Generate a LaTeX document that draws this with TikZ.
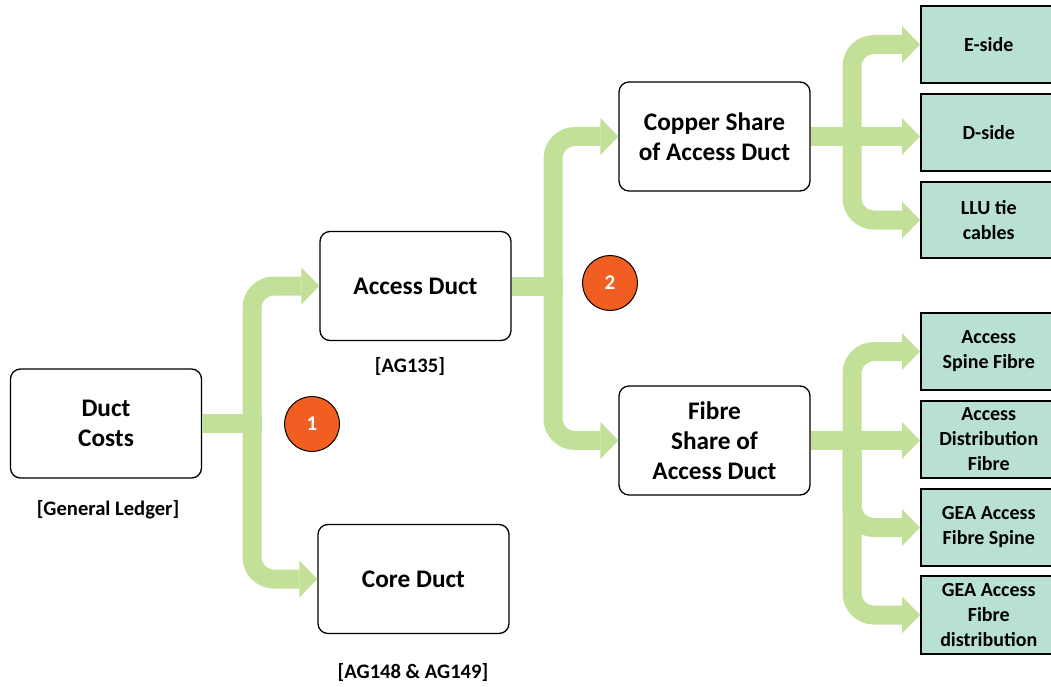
\documentclass[tikz,border=0pt]{standalone}
\usepackage{fontspec}
\setmainfont{Carlito}
\usetikzlibrary{arrows.meta}
\definecolor{arrowgreen}{RGB}{194,224,152}
\definecolor{leafteal}{RGB}{185,225,210}
\definecolor{badgeorange}{RGB}{241,94,34}
\begin{document}
\begin{tikzpicture}[x=1pt,y=-1pt,
 mainbox/.style={draw=black, line width=1.3pt, rounded corners=10pt, fill=white, minimum width=191pt, minimum height=109pt, align=center, font=\fontsize{25.3}{30}\selectfont\bfseries},
 leafbox/.style={draw=black, line width=1.5pt, fill=leafteal, minimum width=136pt, anchor=west, align=center, font=\fontsize{20}{25}\selectfont\bfseries, inner sep=0pt},
 flow/.style={draw=arrowgreen, line width=19pt, rounded corners=22pt},
 flowtip/.style={flow, -{Triangle[width=37pt,length=18pt,line width=0pt]}},
 badge/.style={circle, draw=black, line width=1pt, fill=badgeorange, minimum size=55pt, inner sep=0pt, text=white, font=\fontsize{21}{24}\selectfont\bfseries},
 tag/.style={font=\fontsize{20.6}{24}\selectfont\bfseries}]
\useasboundingbox (0,0) rectangle (1051,687);
% main boxes
\node[mainbox] (duct) at (106,423.5) {Duct\\Costs};
\node[mainbox] (acc) at (415.5,286) {Access Duct};
\node[mainbox] (core) at (413.5,579) {Core Duct};
\node[mainbox] (cop) at (714.5,136.5) {Copper Share\\of Access Duct};
\node[mainbox] (fib) at (714.5,440.5) {Fibre\\Share of\\Access Duct};
% leaf boxes
\node[leafbox, minimum height=77pt] (eside) at (920,44.5) {E-side};
\node[leafbox, minimum height=77pt] (dside) at (920,132.5) {D-side};
\node[leafbox, minimum height=76pt] (llu) at (920,220) {LLU tie\\cables};
\node[leafbox, minimum height=77pt] (asf) at (920,351.5) {Access\\Spine Fibre};
\node[leafbox, minimum height=77pt] (adf) at (920,439.5) {Access\\Distribution\\Fibre};
\node[leafbox, minimum height=77pt] (gafs) at (920,527.5) {GEA Access\\Fibre Spine};
\node[leafbox, minimum height=78pt] (gafd) at (920,615) {GEA Access\\Fibre\\distribution};
% junctions
\coordinate (j1) at (252,423.5);
\coordinate (j2) at (553,286);
\coordinate (j3) at (852,136.5);
\coordinate (j4) at (852,440.5);
% flows
\draw[flow] (duct.east) -- ([xshift=9.5pt]j1);
\draw[flowtip] (j1) |- (acc.west);
\draw[flowtip] (j1) |- (core.west);
\draw[flow] (acc.east) -- ([xshift=9.5pt]j2);
\draw[flowtip] (j2) |- (cop.west);
\draw[flowtip] (j2) |- (fib.west);
\draw[flowtip] (cop.east) -- (cop.east -| dside.west);
\draw[flowtip] (j3) |- (eside.west);
\draw[flowtip] (j3) |- (llu.west);
\draw[flowtip] (fib.east) -- (fib.east -| adf.west);
\draw[flowtip] (j4) |- (asf.west);
\draw[flowtip] (j4) |- (gafs.west);
\draw[flowtip] (j4) |- (gafd.west);
% badges
\node[badge] (b1) at (312,424) {1};
\node[badge] (b2) at (610,283) {2};
% tags
\node[tag] (t1) at (108,510) {[General Ledger]};
\node[tag] (t2) at (410,366) {[AG135]};
\node[tag] (t3) at (413,672) {[AG148 \& AG149]};
\end{tikzpicture}
\end{document}
